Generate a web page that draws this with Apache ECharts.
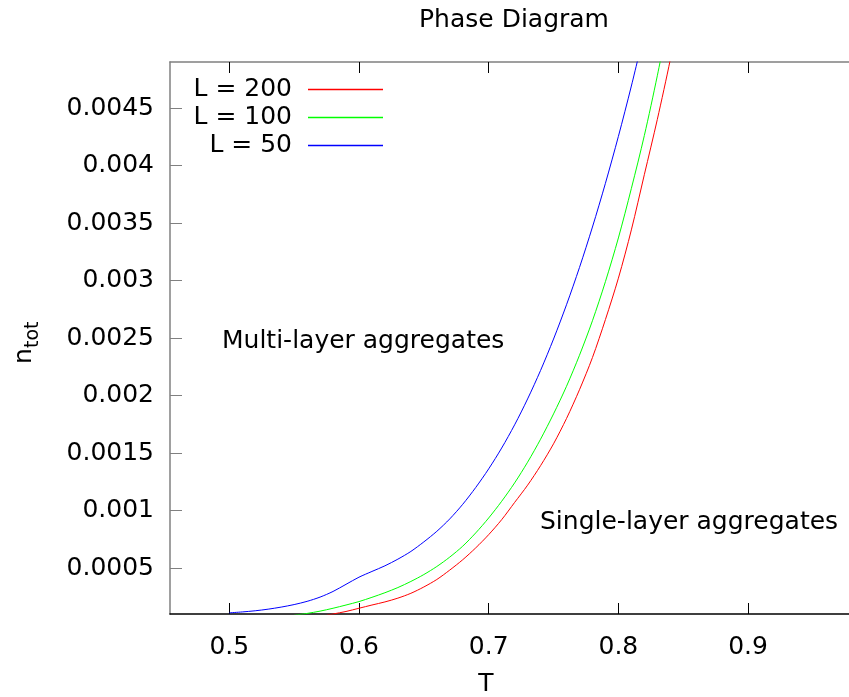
<!DOCTYPE html>
<html>
<head>
<meta charset="utf-8">
<script src="https://cdn.jsdelivr.net/npm/echarts@6/dist/echarts.min.js"></script>
<style>html,body{margin:0;padding:0;background:#fff;}#c{width:849px;height:697px;}</style>
</head>
<body>
<div id="c"></div>
<script>
// ---- data ----
const xTicks = [0.5, 0.6, 0.7, 0.8, 0.9];
const yTicks = [0.0005, 0.001, 0.0015, 0.002, 0.0025, 0.003, 0.0035, 0.004, 0.0045];
const seriesNames = ['L = 200', 'L = 100', 'L = 50'];
const seriesColors = ['#ff0000', '#00ff00', '#0000ff'];

const T_L200 = [0.575,0.58,0.59,0.60,0.61,0.62,0.63,0.64,0.65,0.66,0.67,0.68,0.69,0.70,0.71,0.72,0.73,0.74,0.75,0.76,0.77,0.78,0.79,0.80,0.81,0.82,0.83,0.84,0.85];
const n_L200 = [0.00009,0.0001,0.000122,0.00015,0.000178,0.000205,0.000238,0.00028,0.000335,0.0004,0.000482,0.000572,0.000675,0.00079,0.00092,0.00107,0.00122,0.00139,0.00158,0.0018,0.00205,0.00233,0.00266,0.00302,0.00344,0.00392,0.0044,0.00492,0.0055];

const T_L100 = [0.55,0.56,0.57,0.58,0.59,0.60,0.61,0.62,0.63,0.64,0.65,0.66,0.67,0.68,0.69,0.70,0.71,0.72,0.73,0.74,0.75,0.76,0.77,0.78,0.79,0.80,0.81,0.82,0.83,0.84];
const n_L100 = [0.00009,0.000105,0.000125,0.00015,0.000178,0.000208,0.000245,0.000285,0.00033,0.000383,0.000443,0.000513,0.000595,0.00069,0.000805,0.000935,0.00108,0.00124,0.00142,0.00162,0.00184,0.00208,0.00235,0.00265,0.00299,0.00337,0.0038,0.00426,0.00478,0.00535];

const T_L50 = [0.50,0.51,0.52,0.53,0.54,0.55,0.56,0.57,0.58,0.59,0.60,0.61,0.62,0.63,0.64,0.65,0.66,0.67,0.68,0.69,0.70,0.71,0.72,0.73,0.74,0.75,0.76,0.77,0.78,0.79,0.80,0.81,0.82];
const n_L50 = [0.00011,0.000118,0.000128,0.000142,0.00016,0.000182,0.00021,0.000247,0.000296,0.000358,0.00042,0.00047,0.000519,0.000577,0.000644,0.000727,0.000819,0.000927,0.001054,0.0012,0.001362,0.001543,0.001745,0.00197,0.002218,0.002491,0.002789,0.003113,0.003465,0.003845,0.004253,0.004691,0.005159];

const X_MIN = 0.4543, X_MAX = 0.9778, Y_MIN = 0.0001, Y_MAX = 0.0049;

function pairs(xs, ys) { return xs.map((x, i) => [x, ys[i]]); }

const FONT = 'DejaVu Sans';
const FS = 25;
const chart = echarts.init(document.getElementById('c'), null, {renderer: 'canvas'});
function lineSeries(i, xs, ys) {
  return {name: seriesNames[i], type: 'line', symbol: 'none', clip: true, smooth: 0.3,
    data: pairs(xs, ys), lineStyle: {color: seriesColors[i], width: 1}, itemStyle: {color: seriesColors[i]}};
}
function legendFor(i, top) {
  return {
    orient: 'horizontal', right: 466, top: top, align: 'right', padding: 0,
    icon: 'rect', itemWidth: 75, itemHeight: 1.5,
    data: [{name: seriesNames[i], itemStyle: {color: seriesColors[i]}}],
    formatter: name => '{r|' + name + '}',
    textStyle: {fontFamily: FONT, fontSize: FS, color: '#000',
      rich: {r: {fontSize: FS, fontFamily: FONT, lineHeight: 28, padding: [0, 11, 0, 0]}}}
  };
}
chart.setOption({
  animation: false,
  backgroundColor: '#ffffff',
  textStyle: {fontFamily: FONT},
  grid: {left: 170, top: 62, right: 0, bottom: 83},
  xAxis: [{
    type: 'value', position: 'bottom', min: X_MIN, max: X_MAX,
    axisLine: {show: true, lineStyle: {color: '#000', width: 1.5}},
    axisTick: {show: true, inside: true, length: 11, customValues: xTicks, lineStyle: {color: '#000'}},
    axisLabel: {show: true, customValues: xTicks, margin: 21, color: '#000', fontSize: FS, fontFamily: FONT, formatter: v => String(Math.round(v*10)/10)},
    splitLine: {show: false}
  }, {
    type: 'value', position: 'top', min: X_MIN, max: X_MAX,
    axisLine: {show: true, onZero: false, lineStyle: {color: '#808080', width: 1.5}},
    axisTick: {show: true, inside: true, length: 11, customValues: xTicks, lineStyle: {color: '#000'}},
    axisLabel: {show: false},
    splitLine: {show: false}
  }],
  yAxis: {
    type: 'value', min: Y_MIN, max: Y_MAX,
    axisLine: {show: true, onZero: false, lineStyle: {color: '#808080', width: 1.5}},
    axisTick: {show: true, inside: true, length: 12, customValues: yTicks, lineStyle: {color: '#808080'}},
    axisLabel: {show: true, customValues: yTicks, margin: 16, color: '#000', fontSize: FS, fontFamily: FONT,
      formatter: v => String(parseFloat(v.toPrecision(2)))},
    splitLine: {show: false}
  },
  legend: [legendFor(0, 77), legendFor(1, 105), legendFor(2, 133)],
  series: [
    lineSeries(0, T_L200, n_L200),
    lineSeries(1, T_L100, n_L100),
    lineSeries(2, T_L50, n_L50)
  ],
  graphic: [
    {type: 'text', x: 514, y: 20, style: {text: 'Phase Diagram', font: FS + 'px "DejaVu Sans"', fill: '#000', textAlign: 'center', textVerticalAlign: 'middle'}},
    {type: 'text', x: 486, y: 684, style: {text: 'T', font: FS + 'px "DejaVu Sans"', fill: '#000', textAlign: 'center', textVerticalAlign: 'middle'}},
    {type: 'text', x: 222, y: 341, style: {text: 'Multi-layer aggregates', font: FS + 'px "DejaVu Sans"', fill: '#000', textAlign: 'left', textVerticalAlign: 'middle'}},
    {type: 'text', x: 540, y: 522, style: {text: 'Single-layer aggregates', font: FS + 'px "DejaVu Sans"', fill: '#000', textAlign: 'left', textVerticalAlign: 'middle'}},
    {type: 'group', x: 37, y: 364, rotation: Math.PI / 2, children: [
      {type: 'text', x: 0, y: 0, style: {text: 'n', font: FS + 'px "DejaVu Sans"', fill: '#000', textAlign: 'left', textVerticalAlign: 'bottom'}},
      {type: 'text', x: 16, y: 6, style: {text: 'tot', font: '19px "DejaVu Sans"', fill: '#000', textAlign: 'left', textVerticalAlign: 'bottom'}}
    ]}
  ]
});
</script>
</body>
</html>
